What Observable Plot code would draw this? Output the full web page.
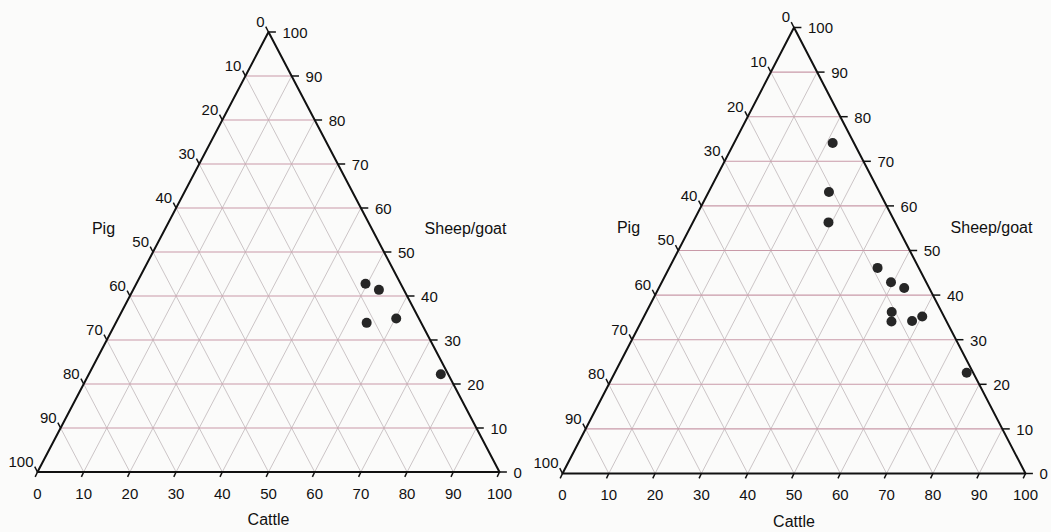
<!DOCTYPE html>
<html>
<head>
<meta charset="utf-8">
<script src="https://cdn.jsdelivr.net/npm/d3@7"></script>
<script src="https://cdn.jsdelivr.net/npm/@observablehq/plot@0.6"></script>
<style>
  html, body { margin: 0; padding: 0; background: #fbfbfa; }
  #wrap { display: flex; width: 1051px; height: 532px; overflow: hidden; }
  svg { display: block; }
</style>
</head>
<body>
<div id="wrap"></div>
<script>
// ---- data ----
const tickValues = [0, 10, 20, 30, 40, 50, 60, 70, 80, 90, 100];
const gridValues = [10, 20, 30, 40, 50, 60, 70, 80, 90];
const axisTitles = ["Pig", "Sheep/goat", "Cattle"];

// left diagram
const leftCattle = [49.6, 53.2, 54.3, 60.2, 76.2];
const leftSheep  = [42.8, 41.4, 33.9, 34.9, 22.2];
const leftPig    = [7.6, 5.4, 11.8, 4.9, 1.6];

// right diagram
const rightCattle = [21.3, 26.0, 29.3, 45.0, 49.5, 53.0, 53.0, 54.0, 58.4, 60.1, 76.0];
const rightSheep  = [74.1, 63.1, 56.3, 46.1, 42.9, 41.6, 36.2, 34.1, 34.2, 35.2, 22.6];
const rightPig    = [4.6, 10.9, 14.4, 8.9, 7.6, 5.4, 10.8, 11.9, 7.4, 4.7, 1.4];

// ternary (pig, sheep, cattle) -> cartesian; base 0..100, apex at (50,100)
function tern(pig, sheep, cattle) {
  const t = pig + sheep + cattle;
  const s = 100 * sheep / t, c = 100 * cattle / t;
  return {x: c + s / 2, y: s};
}

function ternary({cattle, sheep, pig, width, margins}) {
  const pts = cattle.map((c, i) => tern(pig[i], sheep[i], c));
  const outline = [tern(100, 0, 0), tern(0, 0, 100), tern(0, 100, 0), tern(100, 0, 0)];

  const gridH = gridValues.map(v => ({a: tern(100 - v, v, 0), b: tern(0, v, 100 - v)}));
  const gridC = gridValues.map(v => ({a: tern(100 - v, 0, v), b: tern(0, 100 - v, v)}));
  const gridP = gridValues.map(v => ({a: tern(v, 0, 100 - v), b: tern(v, 100 - v, 0)}));

  const rightT = tickValues.map(v => ({v, p: tern(0, v, 100 - v)}));   // sheep/goat
  const leftT = tickValues.map(v => ({v, p: tern(v, 100 - v, 0)}));    // pig
  const bottomT = tickValues.map(v => ({v, p: tern(100 - v, 0, v)}));  // cattle

  const link = (data, stroke, sw) => Plot.link(data, {
    x1: d => d.a.x, y1: d => d.a.y, x2: d => d.b.x, y2: d => d.b.y,
    stroke, strokeWidth: sw
  });

  return Plot.plot({
    width, height: 532,
    marginLeft: margins[0], marginRight: margins[1], marginTop: margins[2], marginBottom: margins[3],
    x: {domain: [0, 100], axis: null},
    y: {domain: [0, 100], axis: null},
    style: {background: "transparent", fontFamily: "Liberation Sans, Arial, sans-serif"},
    marks: [
      link(gridC, "#c6bec1", 0.9),
      link(gridP, "#c6bec1", 0.9),
      link(gridH, "#c99aa8", 1.1),
      // ticks
      Plot.link(rightT, {x1: d => d.p.x, y1: d => d.p.y, x2: d => d.p.x + 1.6, y2: d => d.p.y, stroke: "#111", strokeWidth: 1.5}),
      Plot.link(leftT, {x1: d => d.p.x, y1: d => d.p.y, x2: d => d.p.x - 0.6, y2: d => d.p.y + 1.2, stroke: "#111", strokeWidth: 1.5}),
      Plot.link(bottomT, {x1: d => d.p.x, y1: d => d.p.y, x2: d => d.p.x - 0.5, y2: d => d.p.y - 1.1, stroke: "#111", strokeWidth: 1.5}),
      Plot.line(outline, {x: "x", y: "y", stroke: "#111", strokeWidth: 2}),
      // tick labels
      Plot.text(rightT, {x: d => d.p.x, y: d => d.p.y, text: d => String(d.v), textAnchor: "start", dx: 14, dy: 1, fontSize: 15, fill: "#111"}),
      Plot.text(leftT, {x: d => d.p.x, y: d => d.p.y, text: d => String(d.v), textAnchor: "end", dx: -4, dy: -10, fontSize: 15, fill: "#111"}),
      Plot.text(bottomT, {x: d => d.p.x, y: d => d.p.y, text: d => String(d.v), textAnchor: "middle", dy: 22, fontSize: 15, fill: "#111"}),
      // axis titles
      Plot.text([axisTitles[0]], {frameAnchor: "left", dx: 66, dy: -23, textAnchor: "middle", fontSize: 16, fill: "#111"}),
      Plot.text([axisTitles[1]], {frameAnchor: "right", dx: -34, dy: -23, textAnchor: "middle", fontSize: 16, fill: "#111"}),
      Plot.text([axisTitles[2]], {frameAnchor: "bottom", dy: 53, textAnchor: "middle", fontSize: 16, fill: "#111"}),
      // points
      Plot.dot(pts, {x: "x", y: "y", r: 5, fill: "#262626", stroke: "none"})
    ]
  });
}

const wrap = document.getElementById("wrap");
wrap.appendChild(ternary({cattle: leftCattle, sheep: leftSheep, pig: leftPig, width: 525, margins: [37, 26, 31.5, 60.5]}));
wrap.appendChild(ternary({cattle: rightCattle, sheep: rightSheep, pig: rightPig, width: 526, margins: [37, 26, 27, 59]}));
</script>
</body>
</html>
